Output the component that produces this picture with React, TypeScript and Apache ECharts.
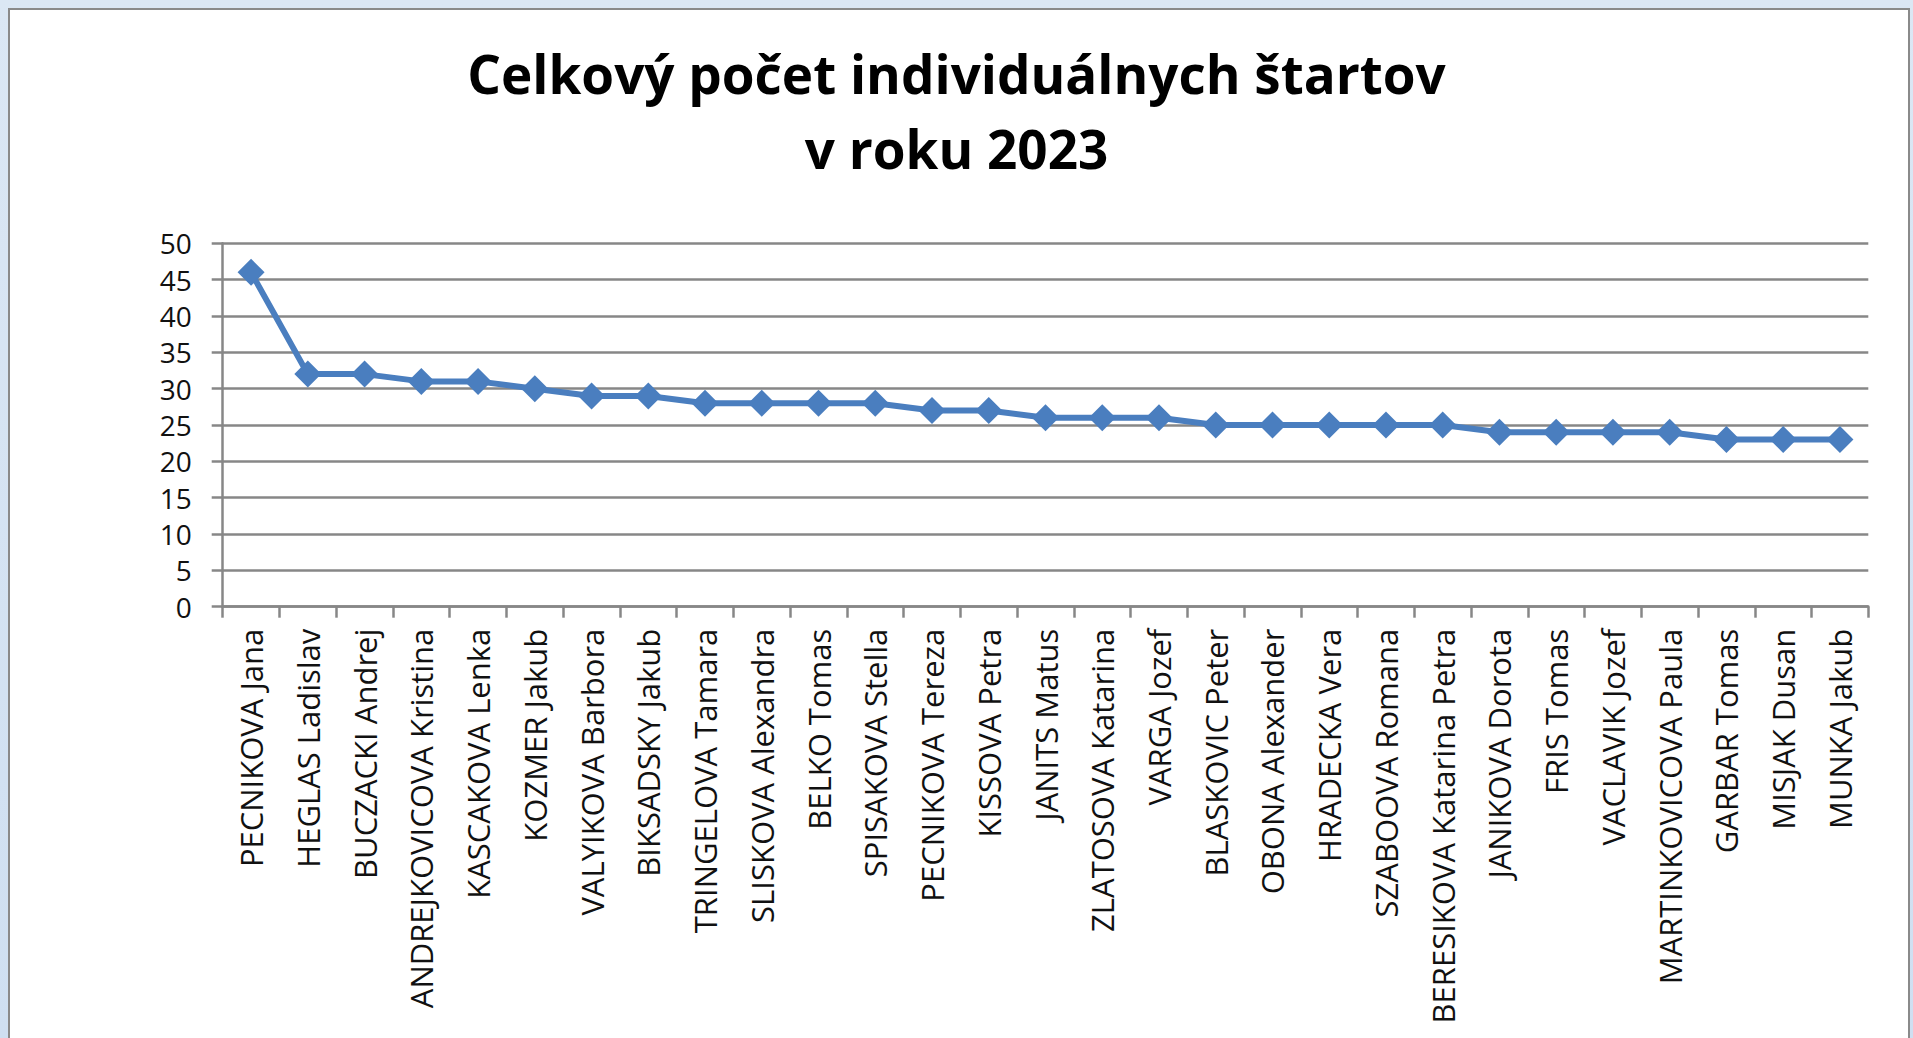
import React, { useEffect, useRef } from "react";
import * as echarts from "echarts";

const titleLines = ["Celkový počet individuálnych štartov", "v roku 2023"];

const names = [
  "PECNIKOVA Jana",
  "HEGLAS Ladislav",
  "BUCZACKI Andrej",
  "ANDREJKOVICOVA Kristina",
  "KASCAKOVA Lenka",
  "KOZMER Jakub",
  "VALYIKOVA Barbora",
  "BIKSADSKY Jakub",
  "TRINGELOVA Tamara",
  "SLISKOVA Alexandra",
  "BELKO Tomas",
  "SPISAKOVA Stella",
  "PECNIKOVA Tereza",
  "KISSOVA Petra",
  "JANITS Matus",
  "ZLATOSOVA Katarina",
  "VARGA Jozef",
  "BLASKOVIC Peter",
  "OBONA Alexander",
  "HRADECKA Vera",
  "SZABOOVA Romana",
  "BERESIKOVA Katarina Petra",
  "JANIKOVA Dorota",
  "FRIS Tomas",
  "VACLAVIK Jozef",
  "MARTINKOVICOVA Paula",
  "GARBAR Tomas",
  "MISJAK Dusan",
  "MUNKA Jakub",
];

const starts = [
  46, 32, 32, 31, 31, 30, 29, 29, 28, 28, 28, 28, 27, 27, 26, 26, 26, 25, 25,
  25, 25, 25, 24, 24, 24, 24, 23, 23, 23,
];

const yMin = 0;
const yMax = 50;
const yStep = 5;

export default function App() {
  const ref = useRef<HTMLDivElement>(null);

  useEffect(() => {
    if (!ref.current) return;
    const chart = echarts.init(ref.current, undefined, { renderer: "svg" });
    const gray = "#878787";
    const blue = "#4a7ebf";
    chart.setOption({
      animation: false,
      backgroundColor: "transparent",
      title: {
        text: titleLines.join("\n"),
        left: "center",
        top: 31,
        textStyle: {
          fontFamily: "Open Sans",
          fontWeight: "bold",
          fontSize: 53,
          lineHeight: 75,
          color: "#000",
        },
      },
      grid: {
        left: 222.7,
        right: 44.7,
        top: 243.3,
        bottom: 431.3,
        containLabel: false,
      },
      xAxis: {
        type: "category",
        data: names,
        boundaryGap: true,
        axisLine: { show: true, lineStyle: { color: gray, width: 2.5 } },
        axisTick: {
          show: true,
          alignWithLabel: false,
          length: 11,
          lineStyle: { color: gray, width: 2.5 },
        },
        axisLabel: {
          interval: 0,
          rotate: 90,
          margin: 22,
          fontFamily: "Open Sans",
          fontSize: 31,
          color: "#111",
        },
      },
      yAxis: {
        type: "value",
        min: yMin,
        max: yMax,
        interval: yStep,
        axisLine: { show: true, lineStyle: { color: gray, width: 2.5 } },
        axisTick: { show: true, length: 11, lineStyle: { color: gray, width: 2.5 } },
        splitLine: { show: true, lineStyle: { color: gray, width: 2.5 } },
        axisLabel: {
          margin: 31,
          fontFamily: "Open Sans",
          fontSize: 28,
          lineHeight: 28,
          color: "#111",
        },
      },
      series: [
        {
          type: "line",
          data: starts,
          symbol: "diamond",
          symbolSize: [27, 27],
          lineStyle: { color: blue, width: 6 },
          itemStyle: { color: blue },
        },
      ],
    });
    return () => chart.dispose();
  }, []);

  return (
    <div
      style={{
        position: "fixed",
        left: 0,
        top: 0,
        width: 1913,
        height: 1038,
        overflow: "hidden",
        background: "linear-gradient(180deg, #dbe7f4 0%, #cfdff1 100%)",
      }}
    >
      <div
        style={{
          position: "absolute",
          left: 8,
          top: 8,
          width: 1898,
          height: 1050,
          borderLeft: "2px solid #8a8a8a",
          borderTop: "2px solid #8a8a8a",
          borderRight: "2px solid #8a8a8a",
          background: "#ffffff",
        }}
      />
      <div
        ref={ref}
        style={{ position: "absolute", left: 0, top: 0, width: 1913, height: 1038 }}
      />
    </div>
  );
}
